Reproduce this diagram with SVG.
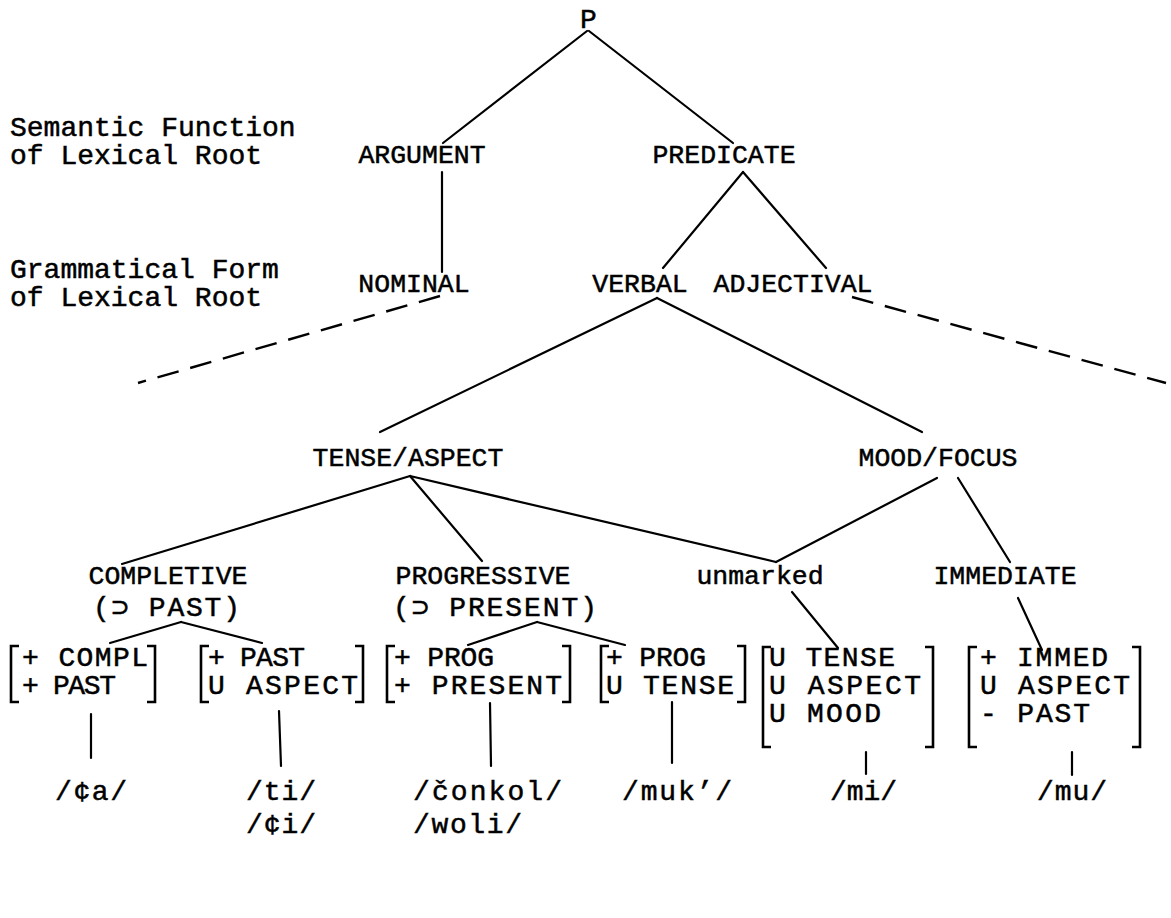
<svg xmlns="http://www.w3.org/2000/svg" width="1171" height="918" viewBox="0 0 1171 918">
<style>
.t{font-family:"Liberation Mono","DejaVu Sans Mono",monospace;font-size:28px;fill:#000;stroke:#000;stroke-width:0.5}
.c{font-size:26.5px;text-anchor:middle}
.e{stroke:#000;stroke-width:2.2;fill:none;stroke-linecap:round}
.d{stroke:#000;stroke-width:2.4;fill:none;stroke-dasharray:22 12}
.b{stroke:#000;stroke-width:2.6;fill:none}
</style>
<rect width="1171" height="918" fill="#fff"/>
<g id="connectors">
<line class="e" x1="587" y1="31" x2="443" y2="143"/>
<line class="e" x1="589" y1="31" x2="733" y2="143"/>
<line class="e" x1="442" y1="172" x2="442" y2="272"/>
<line class="e" x1="743" y1="172" x2="663" y2="268"/>
<line class="e" x1="743" y1="172" x2="826" y2="268"/>
<line class="d" x1="440" y1="296" x2="138" y2="383"/>
<line class="d" x1="852" y1="297" x2="1166" y2="383"/>
<line class="e" x1="657" y1="298" x2="380" y2="432"/>
<line class="e" x1="657" y1="298" x2="922" y2="432"/>
<line class="e" x1="410" y1="476" x2="122" y2="564"/>
<line class="e" x1="410" y1="476" x2="482" y2="561"/>
<line class="e" x1="410" y1="476" x2="776" y2="562"/>
<line class="e" x1="937" y1="478" x2="776" y2="562"/>
<line class="e" x1="958" y1="478" x2="1010" y2="562"/>
<line class="e" x1="181" y1="622" x2="110" y2="643"/>
<line class="e" x1="181" y1="622" x2="262" y2="643"/>
<line class="e" x1="537" y1="622" x2="468" y2="645"/>
<line class="e" x1="537" y1="622" x2="625" y2="645"/>
<line class="e" x1="792" y1="592" x2="838" y2="648"/>
<line class="e" x1="1018" y1="598" x2="1042" y2="650"/>
<line class="e" x1="91" y1="714" x2="91" y2="758"/>
<line class="e" x1="279" y1="711" x2="281" y2="766"/>
<line class="e" x1="490" y1="703" x2="491" y2="766"/>
<line class="e" x1="672" y1="702" x2="672" y2="763"/>
<line class="e" x1="866" y1="752" x2="866" y2="774"/>
<line class="e" x1="1072" y1="752" x2="1072" y2="775"/>
</g>
<g id="labels">
<text class="t" x="10" y="136">Semantic Function<tspan x="10" dy="28">of Lexical Root</tspan></text>
<text class="t" x="10" y="278">Grammatical Form<tspan x="10" dy="28">of Lexical Root</tspan></text>
</g>
<g id="n-P"><text class="t" x="580" y="28">P</text></g>
<g id="n-argument"><text class="t c" x="422" y="163">ARGUMENT</text></g>
<g id="n-predicate"><text class="t c" x="724" y="163">PREDICATE</text></g>
<g id="n-nominal"><text class="t c" x="414" y="292">NOMINAL</text></g>
<g id="n-verbal"><text class="t c" x="640" y="292">VERBAL</text></g>
<g id="n-adjectival"><text class="t c" x="793" y="292">ADJECTIVAL</text></g>
<g id="n-tense-aspect"><text class="t c" x="408" y="466">TENSE/ASPECT</text></g>
<g id="n-mood-focus"><text class="t c" x="938" y="466">MOOD/FOCUS</text></g>
<g id="n-completive"><text class="t c" x="168" y="584">COMPLETIVE</text><text class="t" x="93" y="616" textLength="147" lengthAdjust="spacing">(⊃ PAST)</text></g>
<g id="n-progressive"><text class="t c" x="483" y="584">PROGRESSIVE</text><text class="t" x="393" y="616" textLength="204" lengthAdjust="spacing">(⊃ PRESENT)</text></g>
<g id="n-unmarked"><text class="t c" x="760" y="584">unmarked</text></g>
<g id="n-immediate"><text class="t c" x="1005" y="584">IMMEDIATE</text></g>
<g id="f-compl">
<path class="b" d="M19,646 H11 V702 H19 M147,646 H155 V702 H147"/>
<text class="t" x="22" y="666" textLength="126" lengthAdjust="spacing">+ COMPL</text><text class="t" x="22" y="694" textLength="94" lengthAdjust="spacing">+ PAST</text>
</g>
<g id="f-past">
<path class="b" d="M209,646 H201 V702 H209 M355,646 H363 V702 H355"/>
<text class="t" x="208" y="666" textLength="97" lengthAdjust="spacing">+ PAST</text><text class="t" x="208" y="694" textLength="150" lengthAdjust="spacing">U ASPECT</text>
</g>
<g id="f-prog-present">
<path class="b" d="M395,646 H387 V702 H395 M562,646 H570 V702 H562"/>
<text class="t" x="394" y="666" textLength="100" lengthAdjust="spacing">+ PROG</text><text class="t" x="394" y="694" textLength="168" lengthAdjust="spacing">+ PRESENT</text>
</g>
<g id="f-prog-tense">
<path class="b" d="M609,646 H601 V702 H609 M737,646 H745 V702 H737"/>
<text class="t" x="606" y="666" textLength="100" lengthAdjust="spacing">+ PROG</text><text class="t" x="606" y="694" textLength="128" lengthAdjust="spacing">U TENSE</text>
</g>
<g id="f-unmarked">
<path class="b" d="M771,647 H763 V747 H771 M925,647 H933 V747 H925"/>
<text class="t" x="769" y="666" textLength="126" lengthAdjust="spacing">U TENSE</text><text class="t" x="769" y="694" textLength="152" lengthAdjust="spacing">U ASPECT</text><text class="t" x="769" y="722" textLength="112" lengthAdjust="spacing">U MOOD</text>
</g>
<g id="f-immed">
<path class="b" d="M977,647 H969 V747 H977 M1132,647 H1140 V747 H1132"/>
<text class="t" x="980" y="666" textLength="128" lengthAdjust="spacing">+ IMMED</text><text class="t" x="980" y="694" textLength="150" lengthAdjust="spacing">U ASPECT</text><text class="t" x="980" y="722" textLength="110" lengthAdjust="spacing">- PAST</text>
</g>
<g id="ph-ca"><text class="t" x="55" y="800" textLength="72" lengthAdjust="spacing">/¢a/</text></g>
<g id="ph-ti"><text class="t" x="246" y="800" textLength="70" lengthAdjust="spacing">/ti/</text><text class="t" x="246" y="833" textLength="70" lengthAdjust="spacing">/¢i/</text></g>
<g id="ph-conkol"><text class="t" x="413" y="800" textLength="149" lengthAdjust="spacing">/čonkol/</text><text class="t" x="413" y="833" textLength="109" lengthAdjust="spacing">/woli/</text></g>
<g id="ph-muk"><text class="t" x="622" y="800" textLength="110" lengthAdjust="spacing">/muk’/</text></g>
<g id="ph-mi"><text class="t" x="830" y="800" textLength="67" lengthAdjust="spacing">/mi/</text></g>
<g id="ph-mu"><text class="t" x="1037" y="800" textLength="70" lengthAdjust="spacing">/mu/</text></g>
</svg>
